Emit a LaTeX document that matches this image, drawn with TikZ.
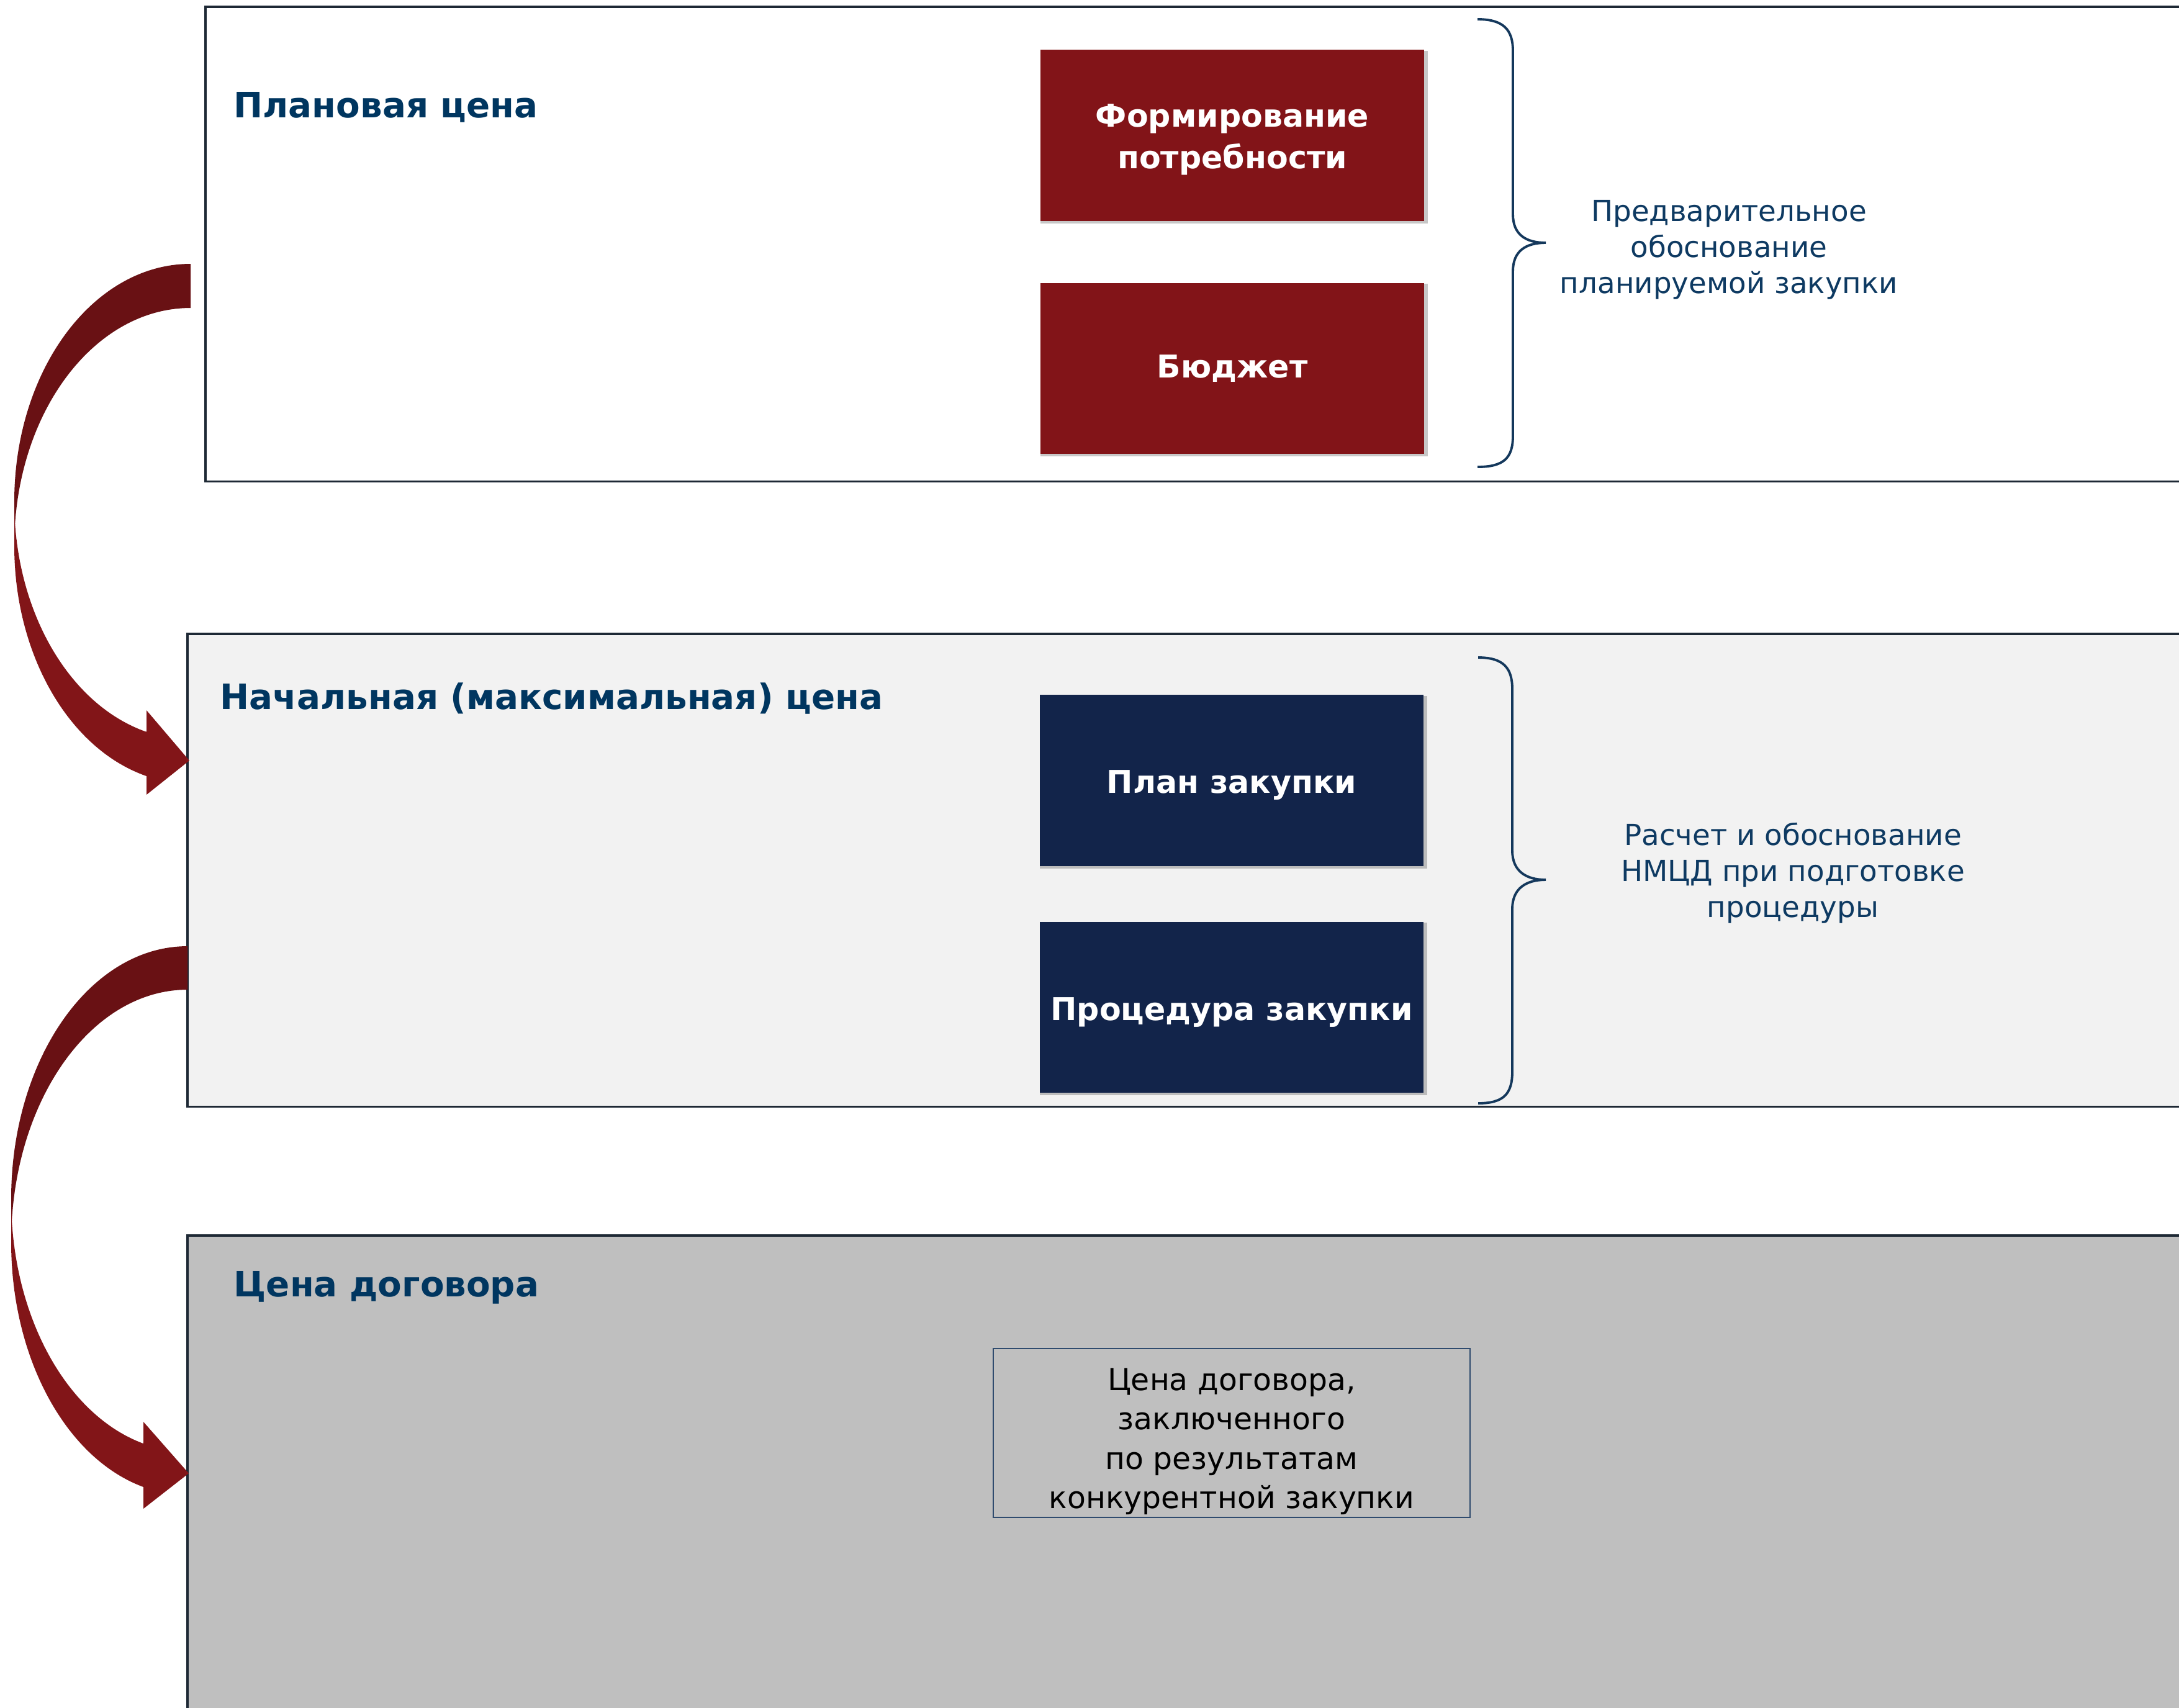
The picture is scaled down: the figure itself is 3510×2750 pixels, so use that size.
\documentclass[tikz,border=0pt]{standalone}
\usepackage{fontspec}
\setmainfont{DejaVu Sans}
\usetikzlibrary{positioning,shadows}
\definecolor{framec}{HTML}{1E2935}
\definecolor{titlec}{HTML}{003660}
\definecolor{notec}{HTML}{0E3A62}
\definecolor{bracec}{HTML}{14385C}
\definecolor{wine}{HTML}{821418}
\definecolor{deepnavy}{HTML}{12244A}
\definecolor{arrowdark}{HTML}{691114}
\definecolor{arrowred}{HTML}{821518}
\definecolor{lightgrey}{HTML}{F2F2F2}
\definecolor{midgrey}{HTML}{BFBFBF}
\definecolor{boxline}{HTML}{2F4B6E}

\begin{document}
\begin{tikzpicture}
		[x=0.01cm, y=-0.01cm,
		frame/.style ={rectangle, draw=framec, line width=0.9pt, anchor=north west, inner sep=0pt, outer sep=0pt},
		block/.style ={rectangle, text=white, font=\bfseries\fontsize{14.4}{19}\selectfont, align=center, minimum width=6.18cm, minimum height=2.75cm, inner sep=0pt, outer sep=0pt, drop shadow={shadow xshift=0.8pt, shadow yshift=-0.8pt, shadow scale=1.008, fill=black, opacity=0.22}},
		title/.style ={anchor=base west, text=titlec, font=\bfseries\fontsize{16}{20}\selectfont, inner sep=0pt},
		note/.style ={text=notec, align=center, font=\fontsize{13.3}{16.5}\selectfont},
		brace/.style ={draw=bracec, line width=1.1pt},
		back/.style ={fill=arrowdark},
		front/.style ={fill=arrowred}]
		\useasboundingbox (0,0) rectangle (3510,2750);
		\clip (0,0) rectangle (3510,2750);

		\node[frame, fill=white, minimum width=32cm, minimum height=7.64cm] (planned) at (331,11) {};
		\node[frame, fill=lightgrey, minimum width=32.3cm, minimum height=7.61cm] (initial) at (302,1021) {};
		\node[frame, fill=midgrey, minimum width=32.3cm, minimum height=7.8cm] (contract) at (302,1990) {};

		\node[title] (plannedtitle) at (376,189) {Плановая цена};
		\node[title] (initialtitle) at (354,1142) {Начальная (максимальная) цена};
		\node[title] (contracttitle) at (376,2088) {Цена договора};

		\node[block, fill=wine] (need) at (1985,218) {\rule{0pt}{14.5pt}Формирование\\потребности};
		\node[block, fill=wine, below=1cm of need] (budget) {Бюджет};
		\node[block, fill=deepnavy] (plan) at (1984,1257) {\rule{0pt}{15pt}План закупки};
		\node[block, fill=deepnavy, below=0.9cm of plan] (proc) {\rule{0pt}{15pt}Процедура закупки};

		\draw[brace] (2380,31) .. controls (2422,31) and (2437,48) .. (2437,82) -- (2437,345) .. controls (2437,378) and (2458,391) .. (2490,391) .. controls (2458,391) and (2437,404) .. (2437,437) -- (2437,702) .. controls (2437,738) and (2422,752) .. (2380,752);
		\draw[brace] (2381,1059) .. controls (2422,1059) and (2436,1076) .. (2436,1110) -- (2436,1370) .. controls (2436,1403) and (2458,1417) .. (2490,1417) .. controls (2458,1417) and (2436,1431) .. (2436,1464) -- (2436,1726) .. controls (2436,1762) and (2422,1777) .. (2381,1777);

		\node[note] (prelim) at (2785,402) {Предварительное\\обоснование\\планируемой закупки};
		\node[note] (calc) at (2888,1406) {Расчет и обоснование\\НМЦД при подготовке\\процедуры};

		\node[draw=boxline, line width=0.5pt, inner sep=0pt, minimum width=7.68cm, minimum height=2.72cm, align=center, font=\fontsize{13.9}{18}\selectfont] (result) at (1984,2308) {\rule{0pt}{18pt}Цена договора,\\заключенного\\по результатам\\конкурентной закупки};

		\fill[back] (307,425) arc[start angle=270, end angle=180, x radius=284, y radius=383] -- (23,879) arc[start angle=180, end angle=270, x radius=284, y radius=383] -- cycle;
		\fill[front] (23,808) arc[start angle=180, end angle=104.48, x radius=284, y radius=383] -- (236,1144) -- (305,1225) -- (236,1280) -- (236,1250) arc[start angle=104.48, end angle=180, x radius=284, y radius=383] -- cycle;

		\fill[back] (302,1524) arc[start angle=270, end angle=180, x radius=284, y radius=407] -- (18,2001) arc[start angle=180, end angle=270, x radius=284, y radius=407] -- cycle;
		\fill[front] (18,1931) arc[start angle=180, end angle=104.48, x radius=284, y radius=407] -- (231,2290) -- (304,2373) -- (231,2430) -- (231,2395) arc[start angle=104.48, end angle=180, x radius=284, y radius=407] -- cycle;

	\end{tikzpicture}
\end{document}
